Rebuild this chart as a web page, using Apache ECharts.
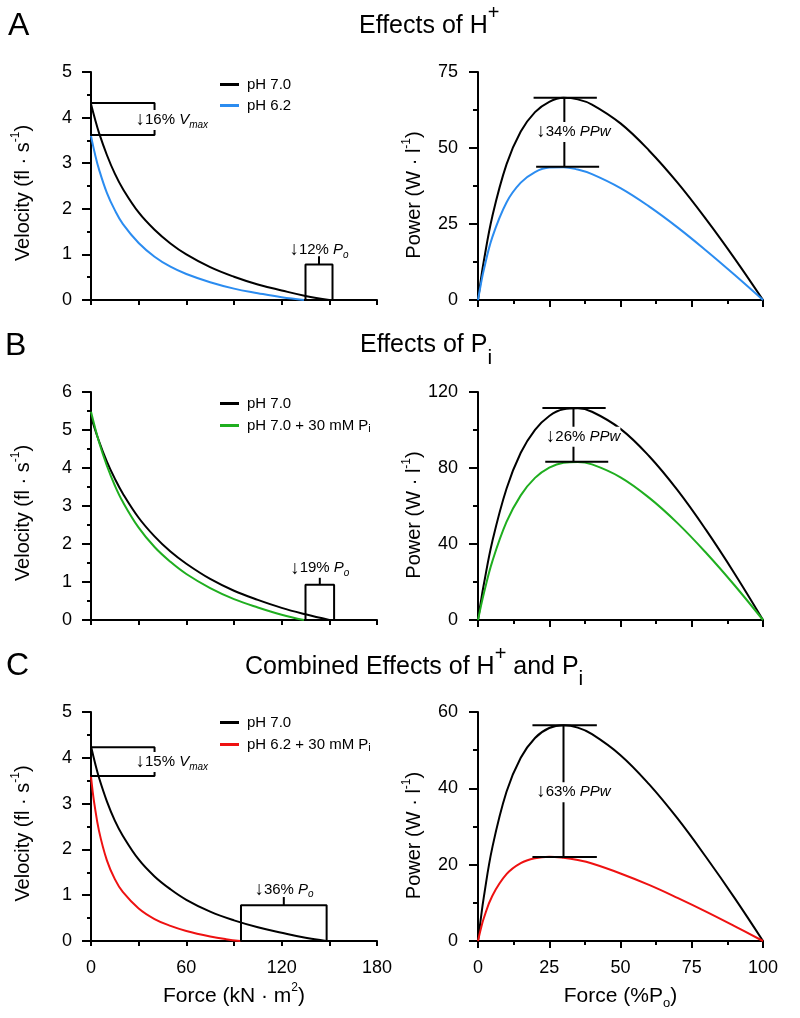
<!DOCTYPE html>
<html>
<head>
<meta charset="utf-8">
<script src="https://cdn.jsdelivr.net/npm/echarts@6/dist/echarts.min.js"></script>
<style>
html, body { margin: 0; padding: 0; background: #fff; }
#chart { width: 800px; height: 1018px; }
</style>
</head>
<body>
<div id="chart"></div>
<script>
// ---- force-velocity (left column), force in kN·m2, velocity in fl·s-1
var fA70 = [0, 2.5, 5, 10, 15, 20, 30, 40, 50, 60, 75, 90, 105, 120, 135, 150];
var vA70 = [4.30, 3.97, 3.67, 3.18, 2.77, 2.44, 1.92, 1.54, 1.24, 1.00, 0.72, 0.51, 0.34, 0.21, 0.09, 0];
var fA62 = [0, 2.5, 5, 10, 15, 20, 30, 40, 50, 60, 75, 90, 105, 120, 134];
var vA62 = [3.60, 3.20, 2.87, 2.35, 1.97, 1.67, 1.25, 0.95, 0.73, 0.57, 0.39, 0.25, 0.15, 0.06, 0];

var fB70 = [0, 5, 10, 15, 20, 30, 40, 50, 60, 75, 90, 105, 120, 135, 150];
var vB70 = [5.35, 4.71, 4.17, 3.72, 3.33, 2.69, 2.20, 1.80, 1.48, 1.08, 0.77, 0.53, 0.32, 0.15, 0];
var fB70Pi = [0, 5, 10, 15, 20, 30, 40, 50, 60, 75, 90, 105, 120, 134];
var vB70Pi = [5.48, 4.69, 4.06, 3.54, 3.11, 2.43, 1.92, 1.53, 1.21, 0.84, 0.55, 0.33, 0.14, 0];

var fC70 = [0, 2.5, 5, 10, 15, 20, 30, 40, 50, 60, 75, 90, 105, 120, 135, 148];
var vC70 = [4.25, 3.89, 3.57, 3.05, 2.63, 2.30, 1.78, 1.41, 1.13, 0.90, 0.64, 0.45, 0.30, 0.18, 0.07, 0];
var fC62Pi = [0, 1, 2, 5, 10, 15, 20, 30, 40, 50, 60, 75, 85, 94];
var vC62Pi = [3.59, 3.28, 3.02, 2.41, 1.76, 1.35, 1.07, 0.71, 0.48, 0.33, 0.22, 0.10, 0.04, 0];

// ---- force-power (right column), force in %Po, power in W·l-1
var pctForce = [0, 1, 2, 5, 10, 15, 20, 25, 30, 35, 40, 50, 60, 70, 80, 90, 100];
var pA70   = [0, 6.6, 12.6, 27.4, 44.6, 55.4, 61.8, 65.2, 66.5, 66.0, 64.3, 58.1, 49.2, 38.6, 26.6, 13.7, 0];
var pA62   = [0, 5.2, 9.8, 20.6, 32.1, 38.6, 42.1, 43.6, 43.7, 42.9, 41.4, 36.8, 30.8, 23.9, 16.3, 8.3, 0];
var pB70   = [0, 9.6, 18.4, 41.2, 69.1, 88.0, 100.1, 107.4, 110.9, 111.4, 109.6, 100.6, 86.3, 68.3, 47.4, 24.5, 0];
var pB70Pi = [0, 7.1, 13.7, 30.7, 51.6, 65.6, 74.8, 80.2, 82.8, 83.2, 81.9, 75.1, 64.4, 51.0, 35.4, 18.3, 0];
var pC70   = [0, 5.9, 11.3, 24.4, 39.1, 48.0, 53.2, 55.8, 56.5, 55.9, 54.2, 48.7, 41.1, 32.1, 22.0, 11.3, 0];
var pC62Pi = [0, 3.2, 5.9, 11.8, 17.5, 20.4, 21.7, 22.1, 21.8, 21.2, 20.3, 17.7, 14.7, 11.3, 7.7, 3.9, 0];

// ---- annotation values
var vmaxA = [4.32, 3.62];          // Vmax bracket pH 7.0 / pH 6.2
var vmaxC = [4.23, 3.60];
var poBoxA = [135, 152, 0.78];     // left, right, height
var poBoxB = [135, 153, 0.93];
var poBoxC = [94.4, 148.3, 0.78];
var ppwA = [66.5, 43.8, 30.3];     // peak power upper, lower, x
var ppwB = [111.6, 83.3, 33.5];
var ppwC = [56.5, 22.0, 30.0];

var notesText = {
  vA: '{ar|↓}{t|16% }{it|V}{sb|max}',
  poA: '{ar|↓}{t|12% }{it|P}{sb|o}',
  ppA: '{ar|↓}{t|34% }{it|PPw}',
  poB: '{ar|↓}{t|19% }{it|P}{sb|o}',
  ppB: '{ar|↓}{t|26% }{it|PPw}',
  vC: '{ar|↓}{t|15% }{it|V}{sb|max}',
  poC: '{ar|↓}{t|36% }{it|P}{sb|o}',
  ppC: '{ar|↓}{t|63% }{it|PPw}'
};

var FONT = '"Liberation Sans", Arial, Helvetica, sans-serif';
var BLACK = '#000000', BLUE = '#2b8cf0', GREEN = '#1fae1f', RED = '#ee1111';

var chart = echarts.init(document.getElementById('chart'));

var grids = [
  { left: 91, top: 72, width: 286, height: 228 },
  { left: 478, top: 72, width: 285, height: 228 },
  { left: 91, top: 392, width: 286, height: 228 },
  { left: 478, top: 392, width: 285, height: 228 },
  { left: 91, top: 712, width: 286, height: 229 },
  { left: 478, top: 712, width: 285, height: 229 }
];

function nameRich(size) {
  return {
    t: { fontSize: size, lineHeight: size + 7, color: BLACK, fontFamily: FONT },
    sp: { fontSize: 12, lineHeight: 12, verticalAlign: 'top', color: BLACK, fontFamily: FONT },
    sb: { fontSize: 13, lineHeight: 12, verticalAlign: 'bottom', color: BLACK, fontFamily: FONT }
  };
}
var axLine = { onZero: false, lineStyle: { color: BLACK, width: 2 } };
var tickStyle = { color: BLACK, width: 2 };

function forceAxis(g, labels) {
  return {
    type: 'value', gridIndex: g, min: 0, max: 180, interval: 30,
    axisLine: axLine,
    axisTick: { length: 5, lineStyle: tickStyle },
    axisLabel: { show: labels, color: BLACK, fontSize: 18, margin: 18,
      formatter: function (v) { return v % 60 === 0 ? String(v) : ''; } },
    splitLine: { show: false },
    name: labels ? '{t|Force (kN · m}{sp|2}{t|)}' : '',
    nameLocation: 'middle', nameGap: 41,
    nameTextStyle: { rich: nameRich(21) }
  };
}
function pctAxis(g, labels) {
  return {
    type: 'value', gridIndex: g, min: 0, max: 100, interval: 25,
    axisLine: axLine,
    axisTick: { length: 7, lineStyle: tickStyle },
    minorTick: { show: true, splitNumber: 2, length: 4, lineStyle: tickStyle },
    axisLabel: { show: labels, color: BLACK, fontSize: 18, margin: 18 },
    splitLine: { show: false },
    name: labels ? '{t|Force (%P}{sb|o}{t|)}' : '',
    nameLocation: 'middle', nameGap: 41,
    nameTextStyle: { rich: nameRich(21) }
  };
}
function velAxis(g, max) {
  return {
    type: 'value', gridIndex: g, min: 0, max: max, interval: 1,
    axisLine: axLine,
    axisTick: { length: 9, lineStyle: tickStyle },
    minorTick: { show: true, splitNumber: 2, length: 4, lineStyle: tickStyle },
    axisLabel: { color: BLACK, fontSize: 18, margin: 19 },
    splitLine: { show: false },
    name: '{t|Velocity (fl · s}{sp|-1}{t|)}',
    nameLocation: 'middle', nameGap: 54, nameRotate: 90,
    nameTextStyle: { rich: nameRich(20), padding: [0, 14, 0, 0] }
  };
}
function powAxis(g, max, step) {
  return {
    type: 'value', gridIndex: g, min: 0, max: max, interval: step,
    axisLine: axLine,
    axisTick: { length: 9, lineStyle: tickStyle },
    minorTick: { show: true, splitNumber: 2, length: 5, lineStyle: tickStyle },
    axisLabel: { color: BLACK, fontSize: 18, margin: 20 },
    splitLine: { show: false },
    name: '{t|Power (W · l}{sp|-1}{t|)}',
    nameLocation: 'middle', nameGap: 50, nameRotate: 90,
    nameTextStyle: { rich: nameRich(20), padding: [0, 18, 0, 0] }
  };
}

function zip(xs, ys) {
  return xs.map(function (x, i) { return [x, ys[i]]; });
}
function curve(g, name, color, xs, ys) {
  return {
    type: 'line', name: name, xAxisIndex: g, yAxisIndex: g,
    data: zip(xs, ys), smooth: 0.4,
    symbol: 'none', showSymbol: false, silent: true, z: 3,
    lineStyle: { color: color, width: 2 }, itemStyle: { color: color }
  };
}
function bracket(g, pts) {
  return {
    type: 'line', xAxisIndex: g, yAxisIndex: g, data: pts,
    symbol: 'none', silent: true, z: 4, clip: false,
    lineStyle: { color: BLACK, width: 2 }
  };
}
var noteRich = {
  ar: { fontSize: 19, lineHeight: 20, color: BLACK, fontFamily: FONT },
  t: { fontSize: 15, lineHeight: 20, color: BLACK, fontFamily: FONT },
  it: { fontSize: 15, lineHeight: 20, fontStyle: 'italic', color: BLACK, fontFamily: FONT },
  sb: { fontSize: 10, lineHeight: 8, fontStyle: 'italic', verticalAlign: 'bottom', color: BLACK, fontFamily: FONT }
};
function note(g, x, y, text, align, bg, lh) {
  return {
    type: 'scatter', xAxisIndex: g, yAxisIndex: g, symbolSize: 0, silent: true, z: 10,
    data: [[x, y]],
    itemStyle: { opacity: 1 },
    label: {
      show: true, position: [0, 0], align: align, verticalAlign: 'middle',
      color: BLACK, opacity: 1, textBorderWidth: 0, textShadowBlur: 0,
      backgroundColor: bg ? '#fff' : 'transparent', lineHeight: lh || 20,
      rich: noteRich, formatter: function () { return text; }
    }
  };
}

function vmaxBracket(g, vals) {
  return bracket(g, [[0, vals[0]], [40, vals[0]], [40, vals[1]], [0, vals[1]]]);
}
function poBox(g, box) {
  var mid = (box[0] + box[1]) / 2;
  return [
    bracket(g, [[box[0], 0], [box[0], box[2]], [box[1], box[2]], [box[1], 0]]),
    bracket(g, [[mid, box[2]], [mid, box[2] + 0.18]])
  ];
}
function ppwBracket(g, p, l1, r1, l2, r2) {
  return bracket(g, [[l1, p[0]], [r1, p[0]], [p[2], p[0]], [p[2], p[1]], [l2, p[1]], [r2, p[1]]]);
}

var legRich = {
  tx: { fontSize: 15, lineHeight: 18, color: BLACK, fontFamily: FONT },
  sb: { fontSize: 11, lineHeight: 8, verticalAlign: 'bottom', color: BLACK, fontFamily: FONT }
};
function legendAt(top, gap, names) {
  return {
    top: top, left: 220, orient: 'vertical', padding: 0, itemGap: gap,
    itemWidth: 19, itemHeight: 3, icon: 'rect', selectedMode: false, data: names,
    formatter: function (n) {
      if (/ Pi$/.test(n)) return '{tx|' + n.slice(0, -1) + '}{sb|i}';
      return '{tx|' + n + '}';
    },
    textStyle: { color: BLACK, fontSize: 15, padding: [0, 0, 0, 3], rich: legRich }
  };
}

var titleRich = {
  t: { fontSize: 25, lineHeight: 46, fill: BLACK, fontFamily: FONT },
  sp: { fontSize: 20, lineHeight: 19, verticalAlign: 'top', fill: BLACK, fontFamily: FONT },
  sb: { fontSize: 21, lineHeight: 36, verticalAlign: 'bottom', fill: BLACK, fontFamily: FONT }
};
function title(left, top, text) {
  return { type: 'text', left: left, top: top, silent: true,
    style: { text: text, rich: titleRich, fill: BLACK, fontFamily: FONT, fontSize: 25 } };
}
function letter(left, top, text) {
  return { type: 'text', left: left, top: top, silent: true,
    style: { text: text, fill: BLACK, fontFamily: FONT, fontSize: 32 } };
}

var series = [
  curve(0, 'pH 7.0', BLACK, fA70, vA70),
  curve(0, 'pH 6.2', BLUE, fA62, vA62),
  curve(1, 'pH 7.0', BLACK, pctForce, pA70),
  curve(1, 'pH 6.2', BLUE, pctForce, pA62),
  curve(2, 'pH 7.0', BLACK, fB70, vB70),
  curve(2, 'pH 7.0 + 30 mM Pi', GREEN, fB70Pi, vB70Pi),
  curve(3, 'pH 7.0', BLACK, pctForce, pB70),
  curve(3, 'pH 7.0 + 30 mM Pi', GREEN, pctForce, pB70Pi),
  curve(4, 'pH 7.0', BLACK, fC70, vC70),
  curve(4, 'pH 6.2 + 30 mM Pi', RED, fC62Pi, vC62Pi),
  curve(5, 'pH 7.0', BLACK, pctForce, pC70),
  curve(5, 'pH 6.2 + 30 mM Pi', RED, pctForce, pC62Pi),

  vmaxBracket(0, vmaxA),
  note(0, 28, 3.95, notesText.vA, 'left', true, 24),
  note(0, 143.5, 1.1, notesText.poA, 'center', false),
  ppwBracket(1, ppwA, 19.5, 41.7, 20.4, 42.5),
  note(1, 20.4, 55.3, notesText.ppA, 'left', true, 22),

  note(2, 144, 1.36, notesText.poB, 'center', false),
  ppwBracket(3, ppwB, 22.6, 44.8, 23.6, 45.7),
  note(3, 23.8, 96.4, notesText.ppB, 'left', true, 16),

  vmaxBracket(4, vmaxC),
  note(4, 28, 3.91, notesText.vC, 'left', true, 24),
  note(4, 121.5, 1.12, notesText.poC, 'center', false),
  ppwBracket(5, ppwC, 19.1, 41.7, 19.1, 41.7),
  note(5, 20.4, 39, notesText.ppC, 'left', true, 18)
].concat(poBox(0, poBoxA), poBox(2, poBoxB), poBox(4, poBoxC));

var option = {
  animation: false,
  backgroundColor: '#fff',
  textStyle: { fontFamily: FONT, color: BLACK },
  grid: grids,
  xAxis: [forceAxis(0, false), pctAxis(1, false), forceAxis(2, false), pctAxis(3, false), forceAxis(4, true), pctAxis(5, true)],
  yAxis: [velAxis(0, 5), powAxis(1, 75, 25), velAxis(2, 6), powAxis(3, 120, 40), velAxis(4, 5), powAxis(5, 60, 20)],
  legend: [
    legendAt(77, 6, ['pH 7.0', 'pH 6.2']),
    legendAt(396, 7, ['pH 7.0', 'pH 7.0 + 30 mM Pi']),
    legendAt(715, 7, ['pH 7.0', 'pH 6.2 + 30 mM Pi'])
  ],
  graphic: [
    letter(8, 10, 'A'),
    letter(5, 330, 'B'),
    letter(6, 650, 'C'),
    title(359, 3, '{t|Effects of H}{sp|+}'),
    title(360, 333, '{t|Effects of P}{sb|i}'),
    title(245, 644, '{t|Combined Effects of H}{sp|+}{t| and P}{sb|i}')
  ],
  series: series
};
chart.setOption(option);
</script>
</body>
</html>
